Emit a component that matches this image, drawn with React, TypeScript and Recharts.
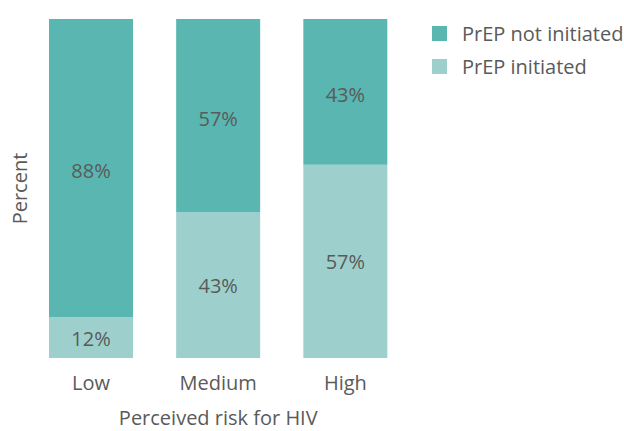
import { BarChart, Bar, XAxis, YAxis, LabelList } from "recharts";

const categories = ["Low", "Medium", "High"];
const initiated = [12, 43, 57];
const notInitiated = [88, 57, 43];

const DARK = "#5AB6B0";
const LIGHT = "#9DD0CC";
const TEXT = "#5A5A5A";
const FONT = "'Open Sans', sans-serif";
const FS = 20;

const data = categories.map((risk, i) => ({ risk, initiated: initiated[i], notInitiated: notInitiated[i] }));

const legendItems = [
  { label: "PrEP not initiated", color: DARK },
  { label: "PrEP initiated", color: LIGHT },
];

const pct = (v: any) => `${v}%`;

export default function App() {
  return (
    <div style={{ position: "absolute", left: 0, top: 0, width: 624, height: 431, background: "#fff", fontFamily: FONT }}>
      <BarChart width={624} height={431} data={data} margin={{ top: 19, right: 215, left: 0, bottom: 0 }} barCategoryGap={21.5}>
        <XAxis
          dataKey="risk"
          axisLine={false}
          tickLine={false}
          tickSize={0}
          tickMargin={18}
          height={73}
          tick={{ fill: TEXT, fontSize: FS, fontFamily: FONT }}
          label={{ value: "Perceived risk for HIV", position: "insideBottom", offset: 6, fill: TEXT, fontSize: FS, fontFamily: FONT }}
        />
        <YAxis
          width={27.5}
          domain={[0, 100]}
          tick={false}
          axisLine={false}
          tickLine={false}
          label={{ value: "Percent", angle: -90, position: "center", dx: 6, fill: TEXT, fontSize: FS, fontFamily: FONT }}
        />
        <Bar dataKey="initiated" stackId="a" fill={LIGHT} isAnimationActive={false}>
          <LabelList dataKey="initiated" position="center" formatter={pct} fill={TEXT} fontSize={FS} fontFamily={FONT} dy={1} />
        </Bar>
        <Bar dataKey="notInitiated" stackId="a" fill={DARK} isAnimationActive={false}>
          <LabelList dataKey="notInitiated" position="center" formatter={pct} fill={TEXT} fontSize={FS} fontFamily={FONT} dy={3} />
        </Bar>
      </BarChart>
      <div style={{ position: "absolute", left: 432, top: 17 }}>
        {legendItems.map((it) => (
          <div key={it.label} style={{ display: "flex", alignItems: "center", height: 33, color: TEXT, fontSize: FS }}>
            <span style={{ width: 15, height: 15, background: it.color, marginRight: 15, display: "inline-block", flexShrink: 0 }} />
            <span>{it.label}</span>
          </div>
        ))}
      </div>
    </div>
  );
}
